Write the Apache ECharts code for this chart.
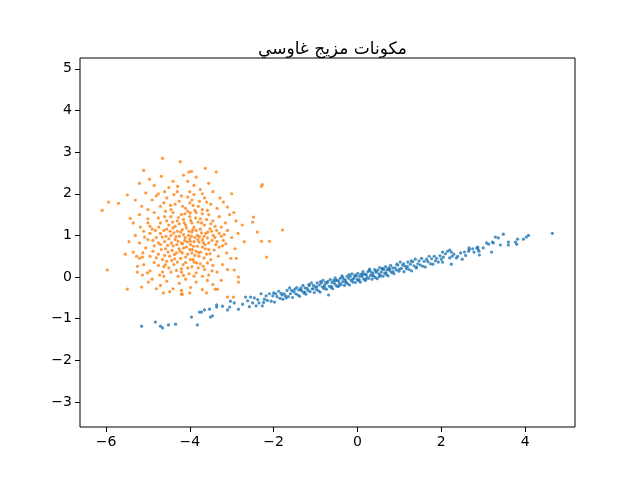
<!DOCTYPE html>
<html>
<head>
<meta charset="utf-8">
<script src="https://cdn.jsdelivr.net/npm/echarts@6/dist/echarts.min.js"></script>
<style>html,body{margin:0;padding:0;background:#fff}#c{width:640px;height:480px}</style>
</head>
<body>
<div id="c"></div>
<script>
const titleText = "مكونات مزيج غاوسي";
const xTicks = [-6, -4, -2, 0, 2, 4];
const yTicks = [-3, -2, -1, 0, 1, 2, 3, 4, 5];

const bluePoints = [
[-5.15,-1.18],[-4.82,-1.08],[-4.7,-1.18],[-4.65,-1.22],[-4.51,-1.15],[-4.34,-1.13],[-3.96,-0.96],[-3.82,-1.15],[-3.77,-0.84],[-3.72,-0.84],[-3.51,-0.96],[-3.46,-0.93],[-3.65,-0.79],[-3.53,-0.77],[-3.36,-0.67],[-3.36,-0.72],[-3.22,-0.7],[-3.1,-0.79],[-3.05,-0.72],[-3.03,-0.58],[-2.94,-0.62],[-2.84,-0.77],[-2.74,-0.65],[-2.67,-0.48],
[-2.62,-0.57],[-2.58,-0.71],[-2.55,-0.48],[-2.5,-0.62],[-2.46,-0.5],[-2.42,-0.69],[-2.38,-0.54],[-2.35,-0.62],[-2.3,-0.4],[-2.27,-0.69],[-2.22,-0.53],[-2.18,-0.45],[-2.15,-0.56],[-2.1,-0.4],[-2.06,-0.58],[-2.02,-0.45],[-1.98,-0.6],[-1.95,-0.4],[-1.92,-0.47],[-1.88,-0.34],[-1.85,-0.51],[-1.82,-0.39],[-1.78,-0.53],[-1.75,-0.4],[-1.72,-0.45],[-1.68,-0.32],[-1.65,-0.47],[-1.62,-0.26],[-1.6,-0.4],[-1.57,-0.32],[-1.55,-0.49],[-1.52,-0.35],[-2.0,-0.38],[-2.24,-0.61],[-1.8,-0.43],[-1.7,-0.5],
[-1.49,-0.29],[-1.47,-0.4],[-1.45,-0.25],[-1.42,-0.43],[-1.4,-0.31],[-1.38,-0.46],[-1.35,-0.26],[-1.33,-0.33],[-1.3,-0.2],[-1.28,-0.38],[-1.25,-0.26],[-1.23,-0.41],[-1.2,-0.27],[-1.18,-0.32],[-1.15,-0.2],[-1.13,-0.35],[-1.1,-0.14],[-1.08,-0.28],[-1.05,-0.2],[-1.03,-0.37],[-1.0,-0.23],[-0.98,-0.3],[-0.96,-0.14],[-0.93,-0.33],[-0.91,-0.19],[-0.89,-0.36],[-0.86,-0.14],[-0.84,-0.24],[-0.82,-0.08],[-0.8,-0.28],[-0.78,-0.19],[-0.76,-0.13],[-0.74,-0.29],[-0.72,-0.14],[-0.69,-0.43],[-0.67,-0.22],[-0.65,-0.06],[-0.63,-0.25],[-0.61,-0.13],[-0.59,-0.28],[-0.57,-0.08],[-0.55,-0.15],[-0.53,-0.02],[-0.51,-0.2],[-0.49,-0.08],[-0.47,-0.23],[-0.45,-0.09],[-0.43,-0.15],[-0.41,-0.03],[-0.39,-0.18],[-0.37,0.03],[-0.35,-0.11],[-0.33,-0.04],[-0.31,-0.2],[-0.29,-0.07],[-0.27,-0.13],[-0.25,0.02],[-0.23,-0.16],[-0.21,-0.03],[-0.19,-0.19],[-0.17,0.02],[-0.15,-0.08],[-0.13,0.08],[-0.11,-0.12],[-0.09,-0.03],[-0.07,0.03],[-0.05,-0.13],[-0.03,0.02],[-0.01,-0.06],
[0.01,0.09],[0.03,-0.09],[0.05,0.02],[0.07,-0.12],[0.09,0.07],[0.11,0.01],[0.13,0.13],[0.15,-0.05],[0.17,0.07],[0.19,-0.08],[0.21,0.06],[0.23,0.0],[0.25,0.13],[0.27,-0.03],[0.29,0.19],[0.31,0.04],[0.33,0.12],[0.35,-0.05],[0.37,0.09],[0.39,0.02],[0.41,0.18],[0.43,-0.01],[0.45,0.12],[0.47,-0.04],[0.49,0.17],[0.51,0.08],[0.53,0.23],[0.55,0.04],[0.57,0.12],[0.59,0.19],[0.61,0.02],[0.63,0.18],[0.65,0.09],[0.67,0.25],[0.69,0.06],[0.71,0.18],[0.73,0.03],[0.75,0.22],[0.77,0.16],[0.79,0.28],[0.81,0.11],[0.84,0.22],[0.87,0.08],[0.9,0.22],[0.93,0.17],[0.96,0.29],[0.99,0.14],[1.02,0.36],[1.05,0.21],[1.08,0.29],[1.11,0.13],[1.14,0.26],[1.17,0.2],[1.2,0.36],[1.23,0.18],[1.26,0.31],[1.29,0.15],[1.32,0.37],[1.35,0.27],[1.38,0.43],[1.41,0.24],[1.44,0.32],[1.47,0.39],
[-0.97,-0.24],[-0.88,-0.11],[-0.79,-0.23],[-0.71,-0.1],[-0.62,-0.22],[-0.52,-0.08],[-0.44,-0.21],[-0.36,0.0],[-0.28,-0.12],[-0.2,0.06],[-0.12,-0.06],[-0.04,0.05],[0.04,-0.06],[0.12,0.06],[0.2,-0.05],[0.28,0.16],[0.36,0.04],[0.44,0.14],[0.52,0.01],[0.6,0.21],[0.68,0.11],[0.76,0.19],[0.85,0.13],[0.94,0.31],[-1.06,-0.28],[-1.16,-0.18],[-1.26,-0.36],[-1.36,-0.3],[1.0,0.19],[1.1,0.32],[1.19,0.25],[1.28,0.39],[1.4,0.22],
[1.5,0.29],[1.53,0.45],[1.56,0.26],[1.59,0.38],[1.62,0.24],[1.65,0.43],[1.68,0.37],[1.71,0.5],[1.74,0.32],[1.77,0.44],[1.8,0.31],[1.83,0.5],[1.86,0.39],[1.89,0.45],[1.93,0.36],[1.97,0.51],[2.0,0.43],
[2.03,0.6],[2.05,0.48],[2.03,0.36],[2.1,0.56],[2.15,0.62],[2.2,0.65],[2.24,0.6],[2.2,0.46],[2.26,0.5],[2.24,0.31],[2.36,0.46],[2.39,0.5],[2.46,0.58],[2.5,0.43],[2.65,0.62],[2.67,0.66],[2.66,0.7],[2.85,0.7],[2.88,0.66],[2.9,0.62],[2.87,0.72],[2.91,0.53],[3.0,0.7],[3.08,0.82],[3.13,0.79],[3.2,0.6],[3.22,0.84],[3.24,0.82],[3.29,0.96],[3.36,0.94],[3.41,0.77],[3.48,1.03],[3.6,0.84],[3.6,0.77],[3.77,0.84],[3.8,0.79],[3.82,0.91],[3.96,0.91],[4.03,0.96],[4.08,1.0],[4.65,1.05],
[2.3,0.55],[2.55,0.6],[2.58,0.52],[2.75,0.68],[2.78,0.6]
];

const orangePoints = [
[-4.65,2.85],[-4.23,2.77],[-5.1,2.56],[-4.96,2.35],[-4.68,2.42],[-5.2,2.25],[-3.96,2.54],[-5.94,1.8],[-5.7,1.77],[-6.09,1.6],[-5.49,1.97],[-5.42,1.41],[-5.54,0.55],[-5.97,0.17],[-5.49,-0.29],[-5.15,-0.24],[-4.63,-0.38],[-4.2,-0.41],[-2.27,2.22],[-2.29,2.18],[-1.79,1.13],[-2.17,0.48],[-2.1,0.86],[-2.29,0.86],[-2.39,1.08],[-2.48,1.44],[-2.5,1.32],[-3.0,2.0],[-3.37,2.52],[-3.63,2.61],[-3.1,-0.48],[-2.96,-0.48],[-2.84,0.0],[-2.84,-0.12],[-2.94,0.17],[-2.89,0.45],
[-3.39,-0.29],[-3.34,-0.29],[-4.18,-0.41],[-4.99,-0.12],[-5.13,0.05],[-5.01,0.1],[-5.25,0.26],[-5.27,0.5],[-5.13,0.48],
[-4.5,2.15],[-4.3,2.05],[-4.05,2.3],[-3.9,2.2],[-4.0,2.05],[-3.75,2.1],[-4.75,2.0],[-4.85,2.2],[-3.55,2.25],[-4.15,2.45],[-3.85,2.4],[-4.4,2.3],[-5.05,2.02],[-3.45,2.05],[-3.9,1.98],[-4.02,2.52],[-4.6,2.05],
[-4.9,1.85],[-4.7,1.7],[-4.55,1.9],[-4.35,1.75],[-4.2,1.95],[-4.1,1.65],[-3.95,1.85],[-3.8,1.7],[-3.65,1.9],[-3.5,1.75],[-3.35,1.65],[-3.2,1.8],[-5.15,1.7],[-5.3,1.85],[-4.45,1.62],[-4.0,1.78],[-3.88,1.6],[-4.25,1.82],[-3.7,1.62],[-4.62,1.78],[-5.0,1.62],[-3.1,1.68],[-2.95,1.55],[-4.8,1.95],[-4.05,1.92],[-3.6,1.8],[-4.38,1.98],[-3.28,1.9],
[-5.2,1.5],[-5.0,1.4],[-4.85,1.55],[-4.7,1.3],[-4.6,1.45],[-4.5,1.25],[-4.4,1.55],[-4.3,1.35],[-4.2,1.5],[-4.1,1.25],[-4.0,1.45],[-3.95,1.3],[-3.85,1.55],[-3.75,1.4],[-3.65,1.25],[-3.55,1.5],[-3.45,1.35],[-3.3,1.45],[-3.15,1.3],[-3.05,1.5],[-2.9,1.35],[-2.75,1.25],[-5.35,1.3],[-4.95,1.22],[-4.75,1.42],[-4.35,1.22],[-4.15,1.38],[-3.9,1.2],[-3.6,1.38],[-3.4,1.22],[-4.05,1.58],[-4.55,1.35],[-3.8,1.32],[-4.25,1.28],[-3.7,1.52],[-3.25,1.2],[-4.45,1.45],[-3.98,1.36],[-4.12,1.52],[-3.5,1.28],
[-5.3,1.0],[-5.1,1.1],[-5.0,0.9],[-4.9,1.15],[-4.8,0.95],[-4.7,1.05],[-4.6,0.85],[-4.55,1.15],[-4.45,1.0],[-4.35,0.9],[-4.3,1.1],[-4.2,0.82],[-4.15,1.02],[-4.08,1.18],[-4.0,0.92],[-3.95,1.08],[-3.9,0.85],[-3.82,1.0],[-3.75,1.15],[-3.7,0.9],[-3.62,1.05],[-3.55,0.82],[-3.48,1.1],[-3.4,0.95],[-3.3,1.05],[-3.2,0.88],[-3.1,1.12],[-3.0,0.95],[-2.85,1.05],[-2.7,0.85],[-5.45,0.85],[-5.2,0.82],[-4.95,1.05],[-4.75,0.82],[-4.62,1.12],[-4.4,1.18],[-4.25,0.98],[-4.12,0.88],[-4.02,1.1],[-3.88,0.95],[-3.78,0.84],[-3.66,0.98],[-3.52,1.16],[-3.35,0.85],[-4.5,0.92],[-4.38,1.06],[-4.18,1.14],[-3.96,0.98],[-3.85,1.12],[-3.58,0.94],[-4.82,1.12],[-4.66,0.96],[-4.28,0.86],[-4.06,0.84],[-3.72,1.06],[-3.44,1.0],[-3.25,0.98],[-5.08,0.96],
[-5.35,0.6],[-5.2,0.45],[-5.05,0.7],[-4.95,0.5],[-4.85,0.75],[-4.75,0.55],[-4.65,0.42],[-4.58,0.68],[-4.48,0.5],[-4.4,0.75],[-4.32,0.58],[-4.22,0.45],[-4.15,0.7],[-4.05,0.55],[-3.98,0.78],[-3.92,0.42],[-3.85,0.62],[-3.78,0.5],[-3.7,0.72],[-3.6,0.55],[-3.5,0.42],[-3.42,0.65],[-3.32,0.5],[-3.22,0.75],[-3.12,0.58],[-3.02,0.45],[-2.92,0.68],[-4.88,0.62],[-4.7,0.78],[-4.52,0.6],[-4.36,0.44],[-4.26,0.68],[-4.1,0.48],[-4.0,0.66],[-3.88,0.52],[-3.74,0.6],[-3.64,0.78],[-3.55,0.66],[-4.42,0.64],[-4.18,0.58],[-3.95,0.58],[-4.6,0.52],[-5.12,0.58],[-3.38,0.78],[-4.8,0.46],[-3.82,0.74],
[-5.1,0.3],[-4.95,0.15],[-4.85,0.35],[-4.72,0.05],[-4.62,0.25],[-4.55,0.38],[-4.45,0.12],[-4.38,0.3],[-4.28,0.02],[-4.2,0.2],[-4.1,0.35],[-4.02,0.08],[-3.95,0.25],[-3.85,0.1],[-3.75,0.32],[-3.65,0.18],[-3.55,0.05],[-3.45,0.28],[-3.35,0.12],[-3.22,0.3],[-3.1,0.18],[-4.75,0.28],[-4.5,0.22],[-4.32,0.16],[-4.15,0.04],[-3.9,0.36],[-3.7,0.02],[-3.58,0.34],[-4.65,0.12],[-4.05,0.22],[-3.8,0.22],[-5.25,0.12],
[-4.9,-0.05],[-4.7,-0.2],[-4.55,-0.1],[-4.4,-0.28],[-4.25,-0.15],[-4.1,-0.05],[-3.98,-0.25],[-3.85,-0.12],[-3.7,-0.3],[-3.58,-0.08],[-3.45,-0.18],[-3.25,-0.08],[-4.48,-0.35],[-4.0,-0.38],[-3.6,-0.38],[-4.8,-0.28],[-4.2,-0.32],
[-4.44,0.82],[-4.33,0.97],[-4.22,1.08],[-4.11,0.95],[-3.99,0.86],[-3.93,1.14],[-3.81,0.9],[-3.68,0.83],[-3.57,1.08],[-4.57,0.98],[-4.47,1.1],[-4.31,0.78],[-4.17,0.8],[-4.03,1.0],[-3.91,0.74],[-3.77,0.97],[-3.63,0.68],[-3.47,0.88],[-4.68,0.66],[-4.53,0.76],[-4.37,0.54],[-4.23,0.62],[-4.08,0.72],[-3.94,0.66],[-3.79,0.58],[-3.66,0.46],[-3.52,0.56],[-4.41,1.32],[-4.27,1.43],[-4.13,1.3],[-3.99,1.54],[-3.86,1.42],[-3.72,1.3],[-3.58,1.6],[-4.58,1.58],[-4.46,1.72],[-4.17,1.7],[-3.92,1.72],[-3.77,1.82],[-4.3,0.36],[-4.16,0.3],[-3.99,0.42],[-3.84,0.34],[-3.68,0.26],[-4.58,0.3],[-4.43,0.4],[-4.88,0.88],[-4.74,1.2],[-3.36,1.12],[-3.18,1.02],[-3.3,0.72],[-3.14,0.8],[-4.29,2.18],[-3.7,2.0],[-4.2,0.12],[-3.9,0.02],[-4.62,0.02],[-3.47,0.15],[-5.0,1.3],[-5.18,1.2]
];

const chart = echarts.init(document.getElementById('c'), null, {renderer: 'canvas'});
const font = 'DejaVu Sans';
const fmt = v => (v < 0 ? '\u2212' + Math.abs(v) : String(v));
chart.setOption({
  animation: false,
  backgroundColor: '#fff',
  title: {
    text: titleText,
    left: 327.5,
    top: 36,
    textAlign: 'center',
    textStyle: {fontFamily: font, fontSize: 17, fontWeight: 'normal', color: '#000'}
  },
  grid: {left: 80, right: 65, top: 58, bottom: 53, show: true, borderColor: '#000', borderWidth: 1, containLabel: false},
  xAxis: {
    type: 'value', min: -6.62, max: 5.19,
    axisLine: {show: false, onZero: false},
    splitLine: {show: false},
    axisTick: {show: true, length: 5, inside: false, customValues: xTicks, lineStyle: {color: '#000'}},
    axisLabel: {customValues: xTicks, formatter: fmt, margin: 8, color: '#000', fontFamily: font, fontSize: 14}
  },
  yAxis: {
    type: 'value', min: -3.6, max: 5.26,
    axisLine: {show: false, onZero: false},
    splitLine: {show: false},
    axisTick: {show: true, length: 5, inside: false, customValues: yTicks, lineStyle: {color: '#000'}},
    axisLabel: {customValues: yTicks, formatter: fmt, margin: 8, color: '#000', fontFamily: font, fontSize: 14}
  },
  series: [
    {type: 'scatter', data: bluePoints, symbol: 'circle', symbolSize: 3.2, itemStyle: {color: '#1f77b4'}, silent: true},
    {type: 'scatter', data: orangePoints, symbol: 'circle', symbolSize: 3.2, itemStyle: {color: '#ff7f0e'}, silent: true}
  ]
});
</script>
</body>
</html>
